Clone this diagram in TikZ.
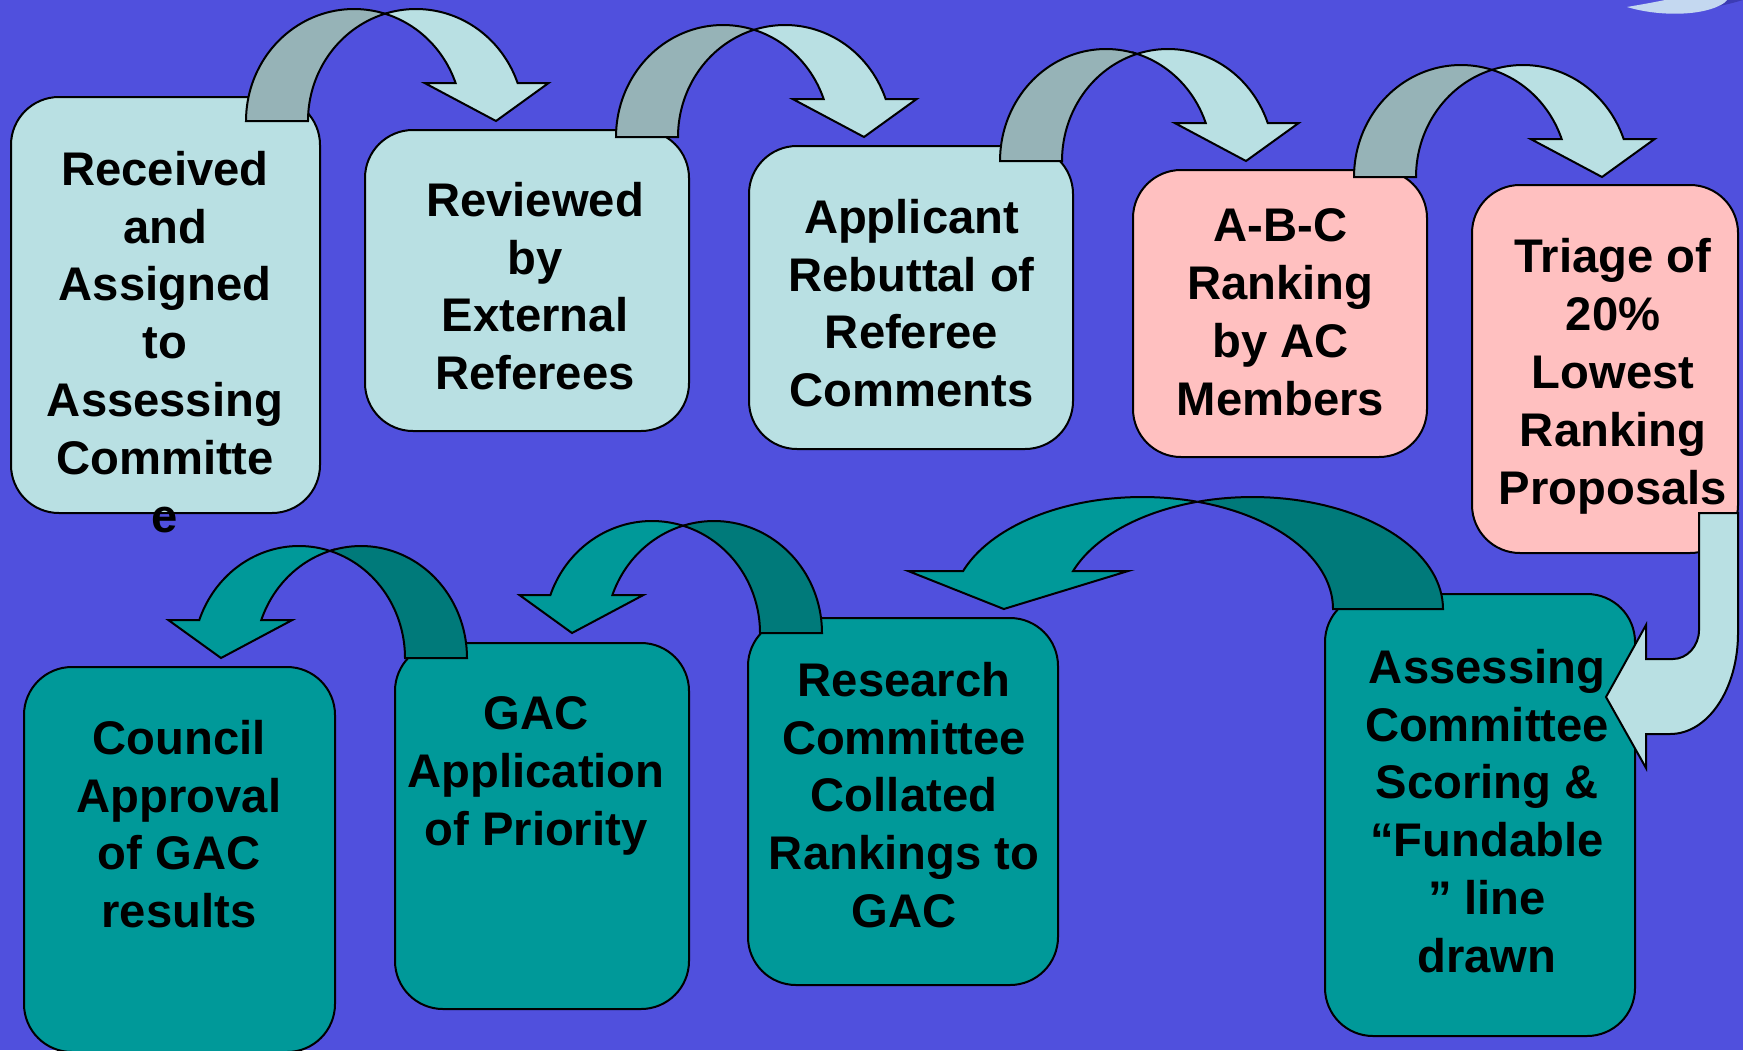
\documentclass[tikz,border=0pt]{standalone}
\usepackage{fontspec}
\setmainfont{Liberation Sans}
\usetikzlibrary{fit}
\definecolor{bg}{RGB}{80,80,221}
\definecolor{lightbox}{RGB}{185,224,227}
\definecolor{lightdark}{RGB}{150,179,183}
\definecolor{pinkbox}{RGB}{255,192,192}
\definecolor{tealbox}{RGB}{0,153,153}
\definecolor{tealdark}{RGB}{0,122,122}
\definecolor{swooshc}{RGB}{196,216,240}
\definecolor{swooshd}{RGB}{60,60,180}

% curved block arrow: #1 centre x of ellipse A, #2 baseline y, #3 x radius, #4 y radius,
% #5 band thickness, #6 direction (1 right, -1 left), #7 front colour, #8 back colour
\newcommand{\cvarrow}[8]{%
  \pgfmathsetmacro{\thc}{acos(#5/(2*#3))}%
  \pgfmathsetmacro{\thb}{\thc-180}%
  \pgfmathsetmacro{\thh}{asin(38/#4)}%
  \pgfmathsetmacro{\cix}{#1+(#6)*(#3*cos(\thh)-#5/2)}%
  \pgfmathsetmacro{\tipx}{#1+(#6)*(#3+#5/2+3)}%
  \pgfmathsetmacro{\hy}{#2-38}%
  \draw[arrowline, fill=#8] plot[domain=-180:-\thc] ({#1+(#6)*#3*cos(\x)},{#2+#4*sin(\x)})
     -- plot[domain=\thb:-180] ({#1+(#6)*(#5+#3*cos(\x))},{#2+#4*sin(\x)}) -- cycle;
  \draw[arrowline, fill=#7] plot[domain=\thb:-\thh] ({#1+(#6)*(#5+#3*cos(\x))},{#2+#4*sin(\x)})
     -- ++({(#6)*#5/2},0) -- (\tipx,#2) -- (\cix,\hy)
     -- plot[domain=-\thh:-\thc] ({#1+(#6)*#3*cos(\x)},{#2+#4*sin(\x)}) -- cycle;
}

\tikzset{
  box/.style={draw=black, line width=1pt, rounded corners=24pt, inner sep=0pt},
  arrowline/.style={draw=black, line width=1pt, samples=45},
  lbl/.style={align=center, inner sep=0pt, anchor=north, text=black,
              font=\fontsize{23.6}{28.9}\selectfont\bfseries},
}

\begin{document}
\begin{tikzpicture}[x=0.5pt,y=-0.5pt]
\useasboundingbox (0,0) rectangle (1743,1050);
\clip (0,0) rectangle (1743,1050);
\fill[bg] (0,0) rectangle (1743,1050);

% corner swoosh
\fill[swooshd] (1690,10) .. controls (1715,8) and (1733,3) .. (1743,0) -- (1722,0) .. controls (1712,6) .. (1690,10) -- cycle;
\fill[swooshc] (1627,7) .. controls (1660,17) and (1705,16) .. (1724,3) -- (1727,0) -- (1665,0) .. controls (1650,3) .. (1627,7) -- cycle;

% boxes
\node[box, fill=lightbox, fit={(11,97)(320,513)}] (b1) {};
\node[box, fill=lightbox, fit={(365,130)(689,431)}] (b2) {};
\node[box, fill=lightbox, fit={(749,146)(1073,449)}] (b3) {};
\node[box, fill=pinkbox, fit={(1133,170)(1427,457)}] (b4) {};
\node[box, fill=pinkbox, fit={(1472,185)(1738,553)}] (b5) {};
\node[box, fill=tealbox, fit={(1325,594)(1635,1036)}] (b6) {};
\node[box, fill=tealbox, fit={(748,618)(1058,985)}] (b7) {};
\node[box, fill=tealbox, fit={(395,643)(689,1009)}] (b8) {};
\node[box, fill=tealbox, fit={(24,667)(335,1052)}] (b9) {};

% texts
\node[lbl] (t1) at (165,144.5) {\strut Received\\\strut and\\\strut Assigned\\\strut to\\\strut Assessing\\\strut Committe\\\strut e};
\node[lbl] (t2) at (535,175.5) {\strut Reviewed\\\strut by\\\strut External\\\strut Referees};
\node[lbl] (t3) at (911.5,192.5) {\strut Applicant\\\strut Rebuttal of\\\strut Referee\\\strut Comments};
\node[lbl] (t4) at (1280.5,201) {\strut A-B-C\\\strut Ranking\\\strut by AC\\\strut Members};
\node[lbl] (t5) at (1613,232) {\strut Triage of\\\strut 20\%\\\strut Lowest\\\strut Ranking\\\strut Proposals};
\node[lbl] (t6) at (1487,642.5) {\strut Assessing\\\strut Committee\\\strut Scoring \&\\\strut “Fundable\\\strut ” line\\\strut drawn};
\node[lbl] (t7) at (904,655.5) {\strut Research\\\strut Committee\\\strut Collated\\\strut Rankings to\\\strut GAC};
\node[lbl] (t8) at (536,689) {\strut GAC\\\strut Application\\\strut of Priority};
\node[lbl] (t9) at (179,713.5) {\strut Council\\\strut Approval\\\strut of GAC\\\strut results};

% curved arrows, top row (pointing right)
\cvarrow{354}{121}{108}{112}{62}{1}{lightbox}{lightdark}
\cvarrow{723}{137}{107}{112}{62}{1}{lightbox}{lightdark}
\cvarrow{1106}{161}{106}{112}{62}{1}{lightbox}{lightdark}
\cvarrow{1461}{177}{107}{112}{62}{1}{lightbox}{lightdark}

% curved arrows, bottom row (pointing left)
\cvarrow{1252.4}{609}{190.6}{112}{110}{-1}{tealbox}{tealdark}
\cvarrow{714}{633}{108}{112}{62}{-1}{tealbox}{tealdark}
\cvarrow{361}{658}{106}{112}{62}{-1}{tealbox}{tealdark}

% bent arrow from triage down to assessing committee
\draw[arrowline, fill=lightbox] (1699,513) -- (1738,513) -- (1738,633)
  .. controls (1738,689) and (1708,734) .. (1670,734) -- (1646,734) -- (1646,768)
  -- (1606,697) -- (1646,625) -- (1646,659) -- (1673,659)
  .. controls (1687,659) and (1699,646) .. (1699,630) -- cycle;
\end{tikzpicture}
\end{document}
